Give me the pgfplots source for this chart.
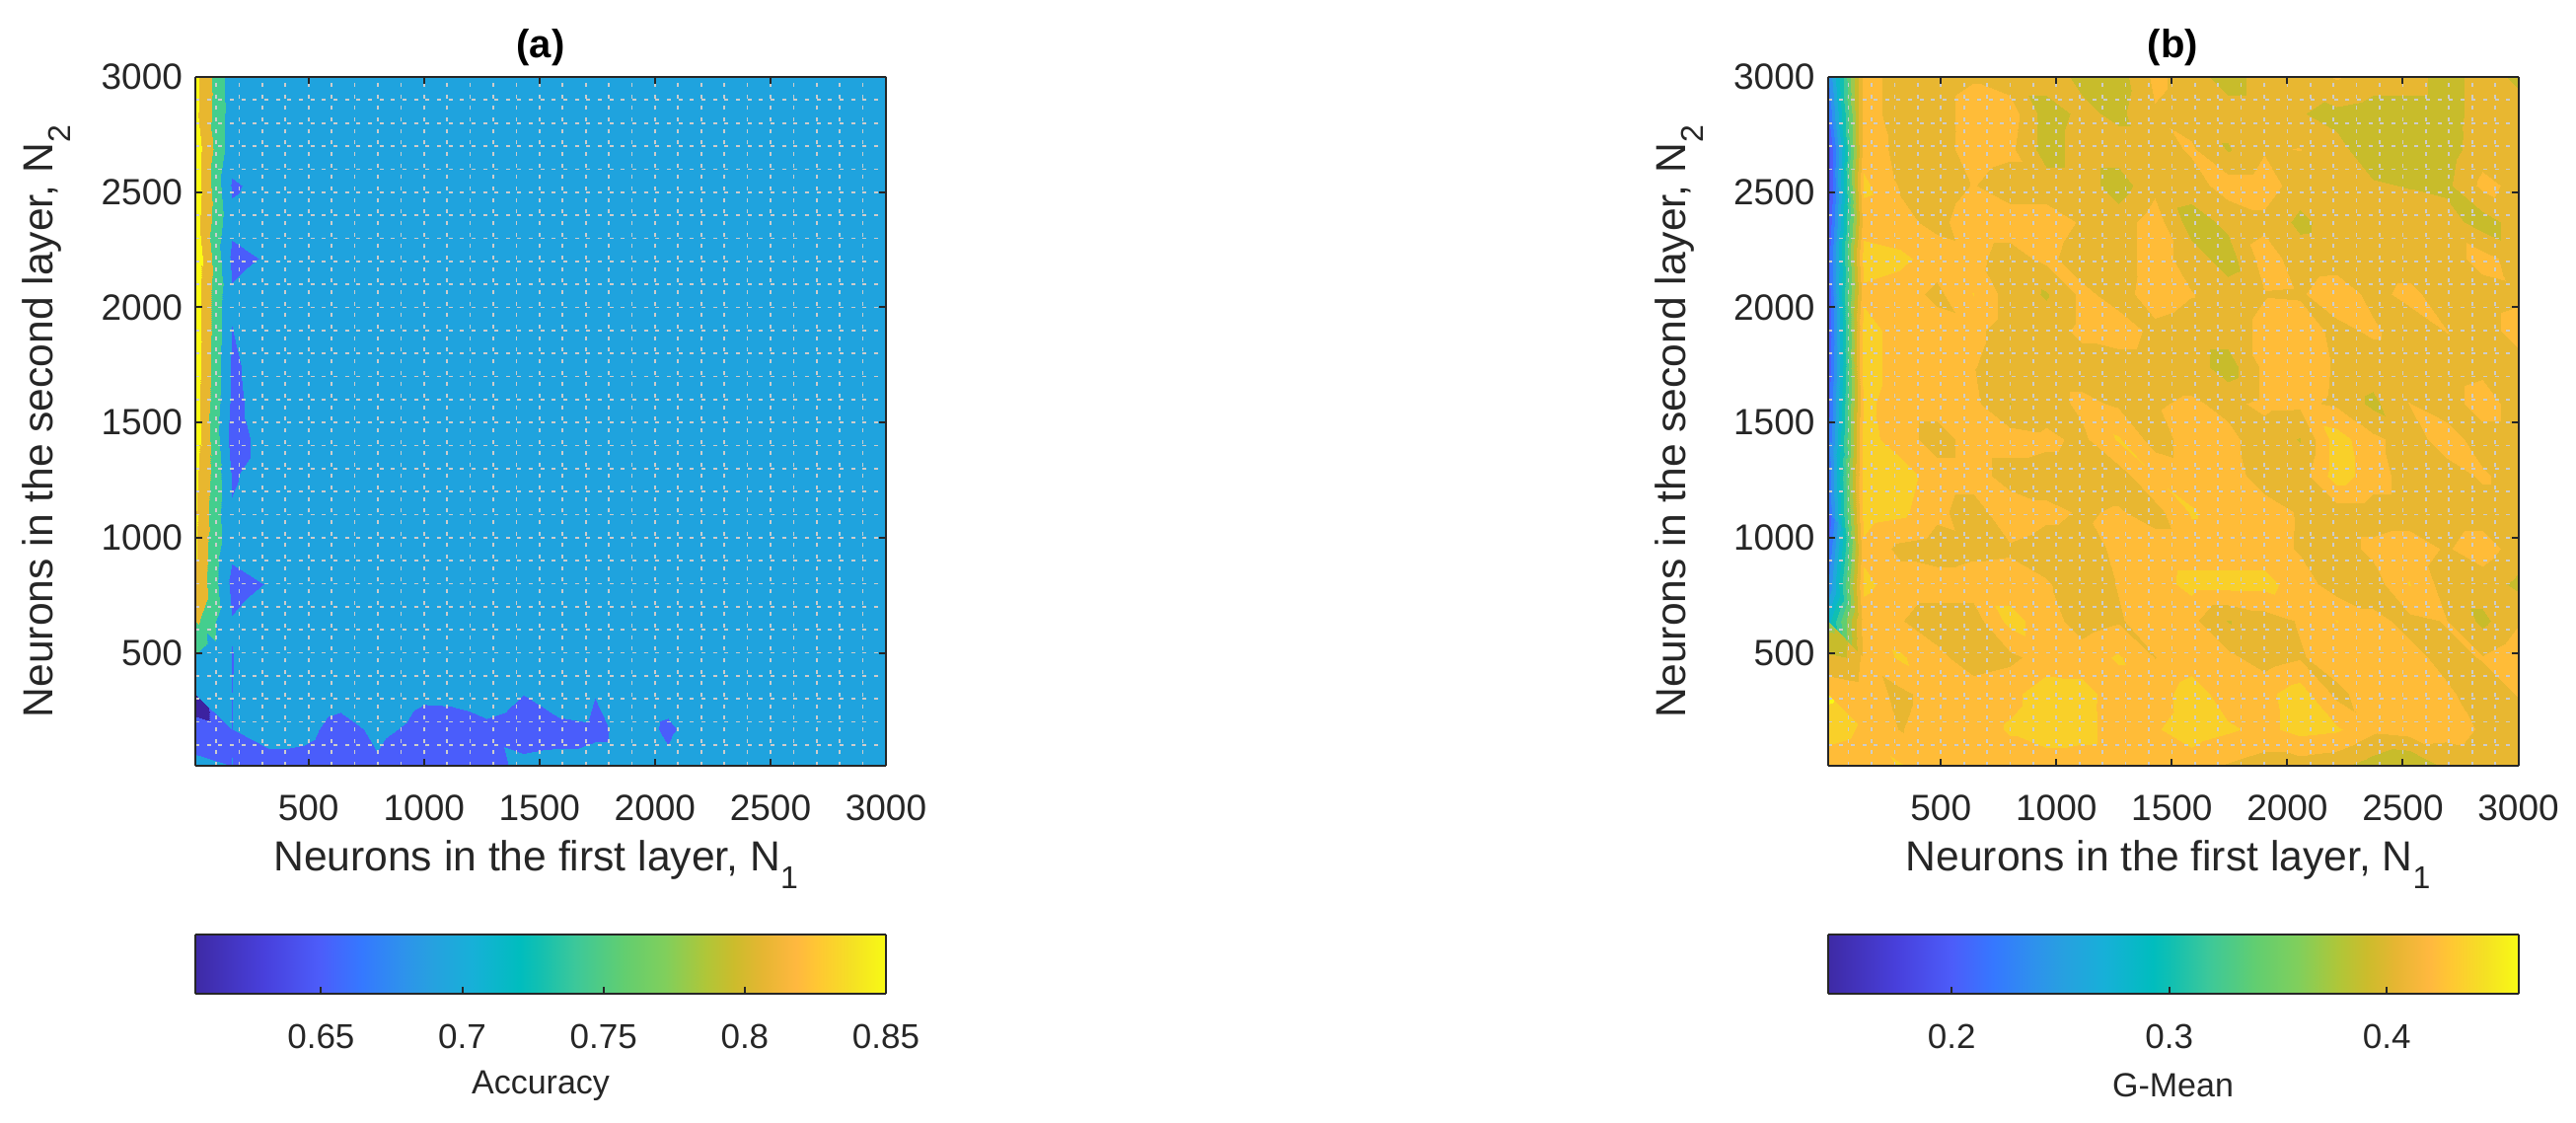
\documentclass[border=0pt]{standalone}
\usepackage{pgfplots}
\usepackage{pgfplotstable}
\usepackage{fontspec}
\setmainfont{Liberation Sans}
\pgfplotsset{compat=1.18}
\definecolor{txt}{HTML}{262626}
\definecolor{gridc}{HTML}{CCCCCC}
\pgfplotsset{
 colormap={parulaX}{
  rgb255(0pt)=(62,42,165) rgb255(10pt)=(72,64,220) rgb255(18pt)=(76,93,250)
  rgb255(24pt)=(53,120,255) rgb255(30pt)=(46,146,236) rgb255(34pt)=(39,160,224)
  rgb255(40pt)=(23,176,216) rgb255(47pt)=(0,189,190) rgb255(50pt)=(20,192,176)
  rgb255(55pt)=(60,200,154) rgb255(62pt)=(98,206,112) rgb255(68pt)=(128,207,92)
  rgb255(74pt)=(176,198,56) rgb255(78pt)=(204,188,44) rgb255(82pt)=(229,182,50)
  rgb255(87pt)=(255,184,63) rgb255(90pt)=(255,199,51) rgb255(95pt)=(245,224,36)
  rgb255(100pt)=(248,250,20)},
 colormap={levA}{HTML=(3C22A0) HTML=(4A5DFB) HTML=(1FA3DE) HTML=(44CE8E) HTML=(E8B72F) HTML=(FCFC14)},
 colormap={levB}{HTML=(3E2AA5) HTML=(4335C0) HTML=(4945E2) HTML=(4C5DFA) HTML=(3579FF) HTML=(2D93EC)
  HTML=(20A8DC) HTML=(0DB6CB) HTML=(10BFB2) HTML=(40C996) HTML=(62CE70) HTML=(9CC850) HTML=(C8BC2B)
  HTML=(E8B731) HTML=(FFBC38) HTML=(F9D029) HTML=(F8FA14)},
 mainax/.style={
  scale only axis, width=350pt, height=349pt, anchor=south west, view={0}{90},
  xmin=10, xmax=3000, ymin=10, ymax=3000, axis on top,
  xtick={500,1000,1500,2000,2500,3000}, ytick={500,1000,1500,2000,2500,3000},
  minor xtick={100,200,...,3000}, minor ytick={100,200,...,3000},
  grid=both,
  major grid style={draw=gridc,line width=0.85pt,dash pattern=on 2pt off 3.83pt},
  minor grid style={draw=gridc,line width=0.85pt,dash pattern=on 2pt off 3.83pt},
  tick style={draw=txt,line width=1pt}, major tick length=3.5pt, minor tick length=0pt,
  tick align=inside, xtick pos=both, ytick pos=both,
  axis line style={draw=txt,line width=1pt},
  tick label style={font=\fontsize{18.5}{18.5}\selectfont,text=txt},
  xticklabel style={yshift=-11.5pt},
  yticklabel style={xshift=-3pt},
  /pgf/number format/assume math mode=true, /pgf/number format/1000 sep={},
  label style={font=\fontsize{21.3}{21.3}\selectfont,text=txt},
  xlabel style={at={(axis description cs:0.493,-0.143)},anchor=center},
  ylabel style={at={(axis description cs:-0.215,0.5)},anchor=center},
  title style={font=\fontsize{20}{20}\selectfont\bfseries,at={(axis description cs:0.5,1.025)},anchor=center,yshift=0pt},
 },
 cbax/.style={
  scale only axis, width=350pt, height=30pt, anchor=south west, view={0}{90},
  ymin=0, ymax=1, ytick=\empty, axis on top,
  tick style={draw=txt,line width=1pt}, major tick length=3.5pt,
  tick align=inside, xtick pos=lower,
  axis line style={draw=txt,line width=1pt},
  tick label style={font=\fontsize{17.5}{17.5}\selectfont,text=txt},
  xticklabel style={yshift=-12pt},
  label style={font=\fontsize{17}{17}\selectfont,text=txt},
  xlabel style={at={(axis description cs:0.5,-1.55)},anchor=center},
  colormap name=parulaX,
 },
}
\pgfplotstableread[header=false]{
.865
.719
.72
.72
.72
.72
.72
.72
.72
.72
.72
.72
.72
.72
.72
.72
.72
.72
.72
.72
.861
.724
.72
.72
.72
.72
.72
.72
.72
.72
.72
.72
.72
.72
.72
.72
.72
.72
.72
.72
.877
.7195
.72
.72
.72
.72
.72
.72
.72
.72
.72
.72
.72
.72
.72
.72
.72
.72
.72
.72
.878
.695
.7134
.72
.72
.72
.72
.72
.72
.72
.72
.72
.72
.72
.72
.72
.72
.72
.72
.72
.87
.71
.72
.72
.72
.72
.72
.72
.72
.72
.72
.72
.72
.72
.72
.72
.72
.72
.72
.72
.89
.69
.7036
.72
.72
.72
.72
.72
.72
.72
.72
.72
.72
.72
.72
.72
.72
.72
.72
.72
.878
.7047
.72
.72
.72
.72
.72
.72
.72
.72
.72
.72
.72
.72
.72
.72
.72
.72
.72
.72
.878
.6993
.72
.72
.72
.72
.72
.72
.72
.72
.72
.72
.72
.72
.72
.72
.72
.72
.72
.72
.878
.693
.72
.72
.72
.72
.72
.72
.72
.72
.72
.72
.72
.72
.72
.72
.72
.72
.72
.72
.873
.69
.72
.72
.72
.72
.72
.72
.72
.72
.72
.72
.72
.72
.72
.72
.72
.72
.72
.72
.88
.68
.72
.72
.72
.72
.72
.72
.72
.72
.72
.72
.72
.72
.72
.72
.72
.72
.72
.72
.868
.696
.72
.72
.72
.72
.72
.72
.72
.72
.72
.72
.72
.72
.72
.72
.72
.72
.72
.72
.8537
.703
.72
.72
.72
.72
.72
.72
.72
.72
.72
.72
.72
.72
.72
.72
.72
.72
.72
.72
.86
.71
.72
.72
.72
.72
.72
.72
.72
.72
.72
.72
.72
.72
.72
.72
.72
.72
.72
.72
.852
.687
.702
.72
.72
.72
.72
.72
.72
.72
.72
.72
.72
.72
.72
.72
.72
.72
.72
.72
.812
.7022
.72
.72
.72
.72
.72
.72
.72
.72
.72
.72
.72
.72
.72
.72
.72
.72
.72
.72
.773
.699
.72
.72
.72
.72
.72
.72
.72
.72
.72
.72
.72
.72
.72
.72
.72
.72
.72
.72
.723
.70005
.72
.72
.7125
.72
.7043
.7053
.7138
.7007
.7218
.7007
.71
.7067
.72
.72
.72
.72
.72
.72
.62
.6997
.711
.7075
.6887
.7064
.6952
.69
.694
.687
.689
.6946
.7086
.697
.71
.72
.72
.72
.72
.72
.7151
.7001
.69
.69
.68
.696
.68
.68
.69
.7066
.71
.71
.71
.7038
.72
.72
.72
.72
.72
.72
}\tabA
\pgfplotstableread[header=false]{
.24
.43
.41
.41
.418
.41
.41
.395
.39
.425
.41
.39
.41
.41
.422
.41
.41
.39
.41
.395
.22
.43
.41
.41
.43
.43
.39
.405
.395
.418
.41
.41
.41
.401
.395
.39
.39
.39
.41
.41
.19
.43
.415
.41
.43
.425
.39
.41
.41
.41
.423
.398
.418
.4205
.405
.39
.39
.39
.412
.41
.19
.445
.418
.41
.421
.41
.41
.41
.39
.415
.41
.43
.43
.41
.405
.402
.399
.395
.425
.415
.20
.43
.425
.415
.43
.43
.43
.418
.41
.43
.39
.405
.415
.395
.41
.41
.41
.41
.39
.41
.21
.45
.445
.43
.425
.412
.425
.41
.41
.43
.41
.39
.43
.41
.412
.41
.41
.41
.428
.41
.21
.435
.43
.415
.4405
.41
.398
.425
.412
.43
.421
.41
.419
.418
.43
.415
.425
.41
.41
.415
.20
.45
.43
.43
.425
.41
.41
.425
.43
.415
.41
.41
.425
.43
.415
.423
.41
.4205
.41
.43
.20
.45
.43
.43
.421
.41
.41
.41
.41
.41
.41
.39
.425
.43
.418
.41
.41
.41
.415
.41
.21
.445
.43
.43
.425
.3995
.41
.425
.417
.418
.423
.415
.425
.424
.417
.395
.4205
.41
.43
.41
.22
.448
.43
.41
.43
.43
.425
.415
.4425
.41
.43
.425
.41
.399
.45
.425
.41
.43
.41
.41
.23
.45
.45
.43
.43
.41
.41
.41
.41
.439
.43
.43
.41
.41
.45
.43
.41
.41
.423
.41
.22
.45
.445
.425
.41
.435
.425
.418
.422
.412
.442
.43
.43
.418
.41
.41
.41
.41
.41
.41
.20
.435
.415
.41
.415
.417
.41
.41
.425
.43
.43
.43
.43
.418
.41
.425
.43
.418
.43
.41
.24
.445
.43
.43
.43
.43
.422
.41
.421
.43
.447
.447
.447
.43
.41
.41
.441
.41
.41
.395
.29
.43
.421
.41
.41
.447
.43
.41
.418
.43
.425
.399
.41
.422
.4405
.425
.415
.421
.395
.418
.37
.425
.443
.425
.41
.415
.43
.43
.4425
.4195
.43
.425
.41
.418
.43
.43
.425
.415
.421
.435
.436
.43
.415
.43
.43
.435
.45
.447
.43
.43
.45
.43
.435
.45
.415
.43
.425
.423
.412
.421
.465
.435
.419
.43
.43
.442
.45
.447
.43
.438
.45
.443
.435
.447
.443
.425
.43
.428
.418
.412
.43
.425
.442
.43
.421
.43
.43
.43
.43
.43
.43
.418
.41
.41
.405
.39
.378
.405
.41
.41
}\tabB
\pgfplotstablecreatecol[create col/expr={10+157.368*mod(\pgfplotstablerow,20)}]{xx}{\tabA}
\pgfplotstablecreatecol[create col/expr={10+157.368*(19-floor(\pgfplotstablerow/20))}]{yy}{\tabA}
\pgfplotstablecreatecol[create col/expr={10+157.368*mod(\pgfplotstablerow,20)}]{xx}{\tabB}
\pgfplotstablecreatecol[create col/expr={10+157.368*(19-floor(\pgfplotstablerow/20))}]{yy}{\tabB}
\begin{document}
\begin{tikzpicture}
\path[use as bounding box] (0,0) rectangle (1305.5pt,569pt);
\begin{axis}[mainax, at={(99pt,181pt)}, title={(a)},
  xlabel={Neurons in the first layer, N\raisebox{-0.42em}{\fontsize{16}{16}\selectfont 1}},
  ylabel={Neurons in the second layer, N\raisebox{-0.42em}{\fontsize{16}{16}\selectfont 2}},
  colormap name=levA, point meta min=0.6, point meta max=0.9]
\addplot3[surf, shader=interp, colormap access=piecewise constant, mesh/cols=20]
  table[x=xx, y=yy, z index=0] {\tabA};
\end{axis}
\begin{axis}[mainax, at={(926.25pt,181pt)}, title={(b)},
  xlabel={Neurons in the first layer, N\raisebox{-0.42em}{\fontsize{16}{16}\selectfont 1}},
  ylabel={Neurons in the second layer, N\raisebox{-0.42em}{\fontsize{16}{16}\selectfont 2}},
  colormap name=levB, point meta min=0.14, point meta max=0.48]
\addplot3[surf, shader=interp, colormap access=piecewise constant, mesh/cols=20]
  table[x=xx, y=yy, z index=0] {\tabB};
\end{axis}
\begin{axis}[cbax, at={(99pt,65.5pt)}, xmin=0.6055, xmax=0.85,
  xtick={0.65,0.7,0.75,0.8,0.85}, xticklabels={0.65,0.7,0.75,0.8,0.85},
  xlabel={Accuracy}, point meta min=0.6055, point meta max=0.85]
\addplot3[surf, shader=interp, mesh/rows=2] coordinates {(0.6055,0,0.6055)(0.85,0,0.85)

(0.6055,1,0.6055)(0.85,1,0.85)};
\end{axis}
\begin{axis}[cbax, at={(926.25pt,65.5pt)}, xmin=0.143, xmax=0.4605,
  xtick={0.2,0.3,0.4}, xticklabels={0.2,0.3,0.4},
  xlabel={G-Mean}, point meta min=0.143, point meta max=0.4605]
\addplot3[surf, shader=interp, mesh/rows=2] coordinates {(0.143,0,0.143)(0.4605,0,0.4605)

(0.143,1,0.143)(0.4605,1,0.4605)};
\end{axis}
\end{tikzpicture}
\end{document}
